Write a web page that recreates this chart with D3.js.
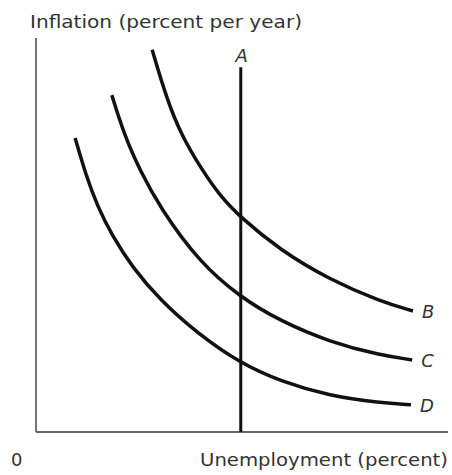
<!DOCTYPE html>
<html>
<head>
<meta charset="utf-8">
<script src="https://cdn.jsdelivr.net/npm/d3@7"></script>
<style>
  body { margin: 0; background: #fff; }
  text { font-family: "DejaVu Sans", "Open Sans", sans-serif; fill: #333; }
</style>
</head>
<body>
<div id="chart"></div>
<script>
// curve data (unemployment, inflation) in arbitrary units 0-10
var curveNames = ["B", "C", "D"];
var curveB = [[2.82, 9.70], [3.18, 8.43], [3.54, 7.51], [4.03, 6.65], [4.47, 5.99],
              [4.95, 5.46], [5.92, 4.62], [7.14, 3.86], [8.35, 3.32], [9.15, 3.07]];
var curveC = [[1.84, 8.55], [2.16, 7.49], [2.52, 6.65], [3.01, 5.69], [3.98, 4.29],
              [4.95, 3.43], [5.92, 2.82], [7.14, 2.28], [8.35, 1.95], [9.13, 1.83]];
var curveD = [[0.95, 7.46], [1.21, 6.52], [1.50, 5.71], [1.84, 5.00], [2.33, 4.19],
              [3.01, 3.35], [3.91, 2.51], [4.95, 1.75], [5.92, 1.29], [7.14, 0.91],
              [8.35, 0.74], [9.10, 0.69]];
// vertical line A: x position and top
var lineA = [[4.97, 0], [4.97, 9.26]];

var width = 452, height = 475;
var margin = {top: 38, right: 4, bottom: 43, left: 36};

var svg = d3.select("#chart")
  .append("svg")
    .attr("width", width)
    .attr("height", height);

var x = d3.scaleLinear()
    .domain([0, 10])
    .range([margin.left, width - margin.right]);
var y = d3.scaleLinear()
    .domain([0, 10])
    .range([height - margin.bottom, margin.top]);

// axes (plain lines, no ticks)
svg.append("line")
    .attr("x1", x(0)).attr("x2", x(0))
    .attr("y1", y(0)).attr("y2", y(10))
    .attr("stroke", "#666").attr("stroke-width", 1.8);
svg.append("line")
    .attr("x1", x(0)).attr("x2", x(10))
    .attr("y1", y(0)).attr("y2", y(0))
    .attr("stroke", "#666").attr("stroke-width", 1.8);

var line = d3.line()
    .x(function(d) { return x(d[0]); })
    .y(function(d) { return y(d[1]); })
    .curve(d3.curveBasis);

var curves = [curveB, curveC, curveD];
svg.selectAll(".curve")
  .data(curves)
  .enter()
  .append("path")
    .attr("class", "curve")
    .attr("d", line)
    .attr("fill", "none")
    .attr("stroke", "#111")
    .attr("stroke-width", 3.5)
    .attr("stroke-linecap", "butt");

// line A
svg.append("path")
    .attr("d", d3.line().x(function(d) { return x(d[0]); }).y(function(d) { return y(d[1]); })(lineA))
    .attr("stroke", "#111")
    .attr("stroke-width", 3);
svg.append("text")
    .attr("x", x(lineA[0][0]) + 1)
    .attr("y", y(lineA[1][1]) - 5)
    .attr("text-anchor", "middle")
    .style("font-size", "18px")
    .style("font-style", "italic")
    .text("A");

// curve labels at the right end
svg.selectAll(".lbl")
  .data(curves)
  .enter()
  .append("text")
    .attr("class", "lbl")
    .attr("x", function(d) { return x(d[d.length - 1][0]) + 9; })
    .attr("y", function(d) { return y(d[d.length - 1][1]) + 7; })
    .style("font-size", "18px")
    .style("font-style", "italic")
    .text(function(d, i) { return curveNames[i]; });

// axis titles
svg.append("text")
    .attr("x", 30)
    .attr("y", 28)
    .attr("textLength", 272)
    .attr("lengthAdjust", "spacingAndGlyphs")
    .style("font-size", "18px")
    .text("Inflation (percent per year)");
svg.append("text")
    .attr("x", 200)
    .attr("y", 466)
    .attr("textLength", 248)
    .attr("lengthAdjust", "spacingAndGlyphs")
    .style("font-size", "18px")
    .text("Unemployment (percent)");
svg.append("text")
    .attr("x", 11)
    .attr("y", 466)
    .style("font-size", "18px")
    .text("0");
</script>
</body>
</html>
